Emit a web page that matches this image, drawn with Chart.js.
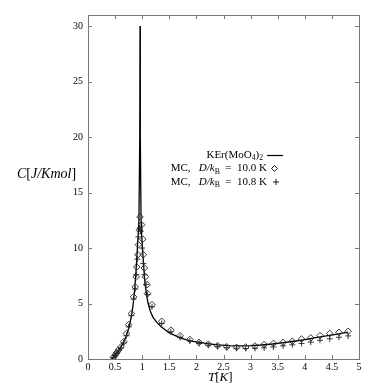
<!DOCTYPE html>
<html>
<head>
<meta charset="utf-8">
<script src="https://cdn.jsdelivr.net/npm/chart.js@4.4.0/dist/chart.umd.min.js"></script>
<style>
  html, body { margin: 0; padding: 0; background: #fff; }
  #c { display: block; }
</style>
</head>
<body>
<canvas id="c" width="372" height="384"></canvas>
<script>
// KEr(MoO4)2 measured specific heat (solid line)
var expT = [0.44, 0.5, 0.55, 0.6, 0.65, 0.7, 0.75, 0.8, 0.83, 0.86, 0.88, 0.9, 0.92, 0.94, 0.955, 0.96, 0.965, 0.98, 0.99, 1.02, 1.05, 1.08, 1.11, 1.15, 1.2, 1.27, 1.35, 1.5, 1.7, 1.9, 2.0, 2.2, 2.4, 2.6, 2.8, 3.0, 3.2, 3.4, 3.6, 3.8, 4.0, 4.2, 4.4, 4.6, 4.8];
var expC = [0.0, 0.35, 0.65, 1.0, 1.45, 2.0, 2.75, 3.8, 4.8, 6.2, 7.5, 9.0, 10.7, 12.5, 20, 30, 20, 12.3, 11.2, 8.9, 6.9, 5.8, 5.0, 4.3, 3.75, 3.3, 2.9, 2.35, 1.9, 1.62, 1.55, 1.38, 1.27, 1.2, 1.18, 1.2, 1.26, 1.35, 1.47, 1.6, 1.75, 1.92, 2.08, 2.25, 2.42];

// MC, D/kB = 10.0 K (diamonds)
var mc100T = [0.47, 0.5, 0.53, 0.56, 0.61, 0.66, 0.71, 0.75, 0.8, 0.84, 0.87, 0.89, 0.9, 0.92, 0.93, 0.95, 0.96, 0.99, 1.01, 1.02, 1.04, 1.06, 1.09, 1.1, 1.18, 1.36, 1.53, 1.70, 1.88, 2.05, 2.22, 2.39, 2.56, 2.74, 2.91, 3.08, 3.25, 3.42, 3.60, 3.77, 3.94, 4.11, 4.28, 4.46, 4.63, 4.80];
var mc100C = [0.15, 0.36, 0.57, 0.8, 1.1, 1.56, 2.3, 3.1, 4.1, 5.6, 6.5, 7.4, 8.3, 9.4, 10.3, 11.6, 12.8, 12.1, 10.8, 9.4, 8.2, 7.4, 6.7, 5.9, 4.9, 3.4, 2.6, 2.1, 1.75, 1.5, 1.33, 1.2, 1.1, 1.05, 1.08, 1.17, 1.3, 1.4, 1.5, 1.6, 1.8, 1.9, 2.1, 2.3, 2.4, 2.5];

// MC, D/kB = 10.8 K (pluses)
var mc108T = [0.47, 0.5, 0.53, 0.56, 0.61, 0.66, 0.71, 0.75, 0.8, 0.84, 0.87, 0.89, 0.91, 0.93, 0.95, 0.97, 1.0, 1.02, 1.04, 1.07, 1.1, 1.18, 1.36, 1.53, 1.70, 1.88, 2.05, 2.22, 2.39, 2.56, 2.74, 2.91, 3.08, 3.25, 3.42, 3.60, 3.77, 3.94, 4.11, 4.28, 4.46, 4.63, 4.80];
var mc108C = [0.12, 0.3, 0.5, 0.72, 1.0, 1.45, 2.1, 2.9, 3.9, 5.4, 6.3, 7.6, 9.0, 11.0, 11.8, 11.5, 10.0, 8.6, 7.6, 6.7, 5.8, 4.7, 3.2, 2.45, 1.95, 1.62, 1.4, 1.24, 1.12, 1.02, 0.97, 0.95, 0.96, 1.0, 1.08, 1.18, 1.28, 1.4, 1.52, 1.68, 1.82, 1.96, 2.08];

var xTicks = [0, 0.5, 1, 1.5, 2, 2.5, 3, 3.5, 4, 4.5, 5];
var xLabels = ['0', '0.5', '1', '1.5', '2', '2.5', '3', '3.5', '4', '4.5', '5'];
var yTicks = [0, 5, 10, 15, 20, 25, 30];
var yLabels = ['0', '5', '10', '15', '20', '25', '30'];

function pts(xs, ys) {
    var out = [];
    for (var i = 0; i < xs.length; i++) out.push({x: xs[i], y: ys[i]});
    return out;
}

var SERIF = '"Liberation Serif", "DejaVu Serif", serif';

// draw a run of text pieces: [text, fontStyle, sizeScale, dy]
function drawRuns(ctx, runs, x, y, size, alignRight) {
    var w = 0;
    runs.forEach(function (r) {
        ctx.font = (r[1] || '') + ' ' + (size * (r[2] || 1)) + 'px ' + SERIF;
        w += ctx.measureText(r[0]).width;
    });
    var cx = alignRight ? x - w : x;
    runs.forEach(function (r) {
        ctx.font = (r[1] || '') + ' ' + (size * (r[2] || 1)) + 'px ' + SERIF;
        ctx.fillText(r[0], cx, y + (r[3] || 0));
        cx += ctx.measureText(r[0]).width;
    });
    return w;
}

var framePlugin = {
    id: 'frame',
    beforeDatasetsDraw: function (chart) {
        var ctx = chart.ctx, a = chart.chartArea;
        var xs = chart.scales.x, ys = chart.scales.y;
        ctx.save();
        ctx.strokeStyle = '#777';
        ctx.lineWidth = 1;
        ctx.strokeRect(a.left + 0.5, a.top + 0.5, a.right - a.left, a.bottom - a.top);
        ctx.beginPath();
        xTicks.forEach(function (v) {
            var px = Math.round(xs.getPixelForValue(v)) + 0.5;
            ctx.moveTo(px, a.bottom); ctx.lineTo(px, a.bottom - 4);
            ctx.moveTo(px, a.top); ctx.lineTo(px, a.top + 4);
        });
        yTicks.forEach(function (v) {
            var py = Math.round(ys.getPixelForValue(v)) + 0.5;
            ctx.moveTo(a.left, py); ctx.lineTo(a.left + 4, py);
            ctx.moveTo(a.right, py); ctx.lineTo(a.right - 4, py);
        });
        ctx.stroke();
        ctx.restore();
    },
    afterDraw: function (chart) {
        var ctx = chart.ctx;
        ctx.save();
        ctx.fillStyle = '#000';
        ctx.textBaseline = 'middle';
        ctx.textAlign = 'left';
        // axis titles
        drawRuns(ctx, [['C', 'italic'], ['['], ['J/Kmol', 'italic'], [']']], 17, 174, 14, false);
        drawRuns(ctx, [['T', 'italic'], ['['], ['K', 'italic'], [']']], 208, 378, 13, false);
        // legend
        drawRuns(ctx, [['KEr(MoO'], ['4', '', 0.7, 3], [')'], ['2', '', 0.7, 3]], 263, 155, 11, true);
        ctx.strokeStyle = '#000';
        ctx.lineWidth = 1.2;
        ctx.beginPath(); ctx.moveTo(267, 155.5); ctx.lineTo(283, 155.5); ctx.stroke();
        var mcRuns = function (val) {
            return [['MC,   '], ['D/k', 'italic'], ['B', '', 0.7, 3], ['  =  ' + val + ' K']];
        };
        drawRuns(ctx, mcRuns('10.0'), 267, 168.5, 11, true);
        drawRuns(ctx, mcRuns('10.8'), 267, 182, 11, true);
        ctx.lineWidth = 0.9;
        ctx.beginPath();
        ctx.moveTo(274.5, 165.5); ctx.lineTo(277.5, 168.5); ctx.lineTo(274.5, 171.5); ctx.lineTo(271.5, 168.5); ctx.closePath();
        ctx.stroke();
        ctx.beginPath();
        ctx.moveTo(273, 182); ctx.lineTo(279, 182);
        ctx.moveTo(276, 179); ctx.lineTo(276, 185);
        ctx.stroke();
        ctx.restore();
    }
};

new Chart(document.getElementById('c'), {
    type: 'scatter',
    data: {
        datasets: [{
            label: 'KEr(MoO4)2',
            type: 'line',
            data: pts(expT, expC),
            borderColor: '#000',
            borderWidth: 1.3,
            pointRadius: 0,
            fill: false,
            tension: 0,
            order: 3
        }, {
            label: 'MC, D/kB = 10.0 K',
            data: pts(mc100T, mc100C),
            pointStyle: 'rectRot',
            pointRadius: 3.3,
            borderColor: '#222',
            backgroundColor: 'rgba(255,255,255,0)',
            borderWidth: 0.9,
            order: 1
        }, {
            label: 'MC, D/kB = 10.8 K',
            data: pts(mc108T, mc108C),
            pointStyle: 'cross',
            pointRadius: 3,
            borderColor: '#222',
            borderWidth: 0.9,
            order: 2
        }]
    },
    options: {
        responsive: false,
        animation: false,
        layout: { padding: { left: 0, right: 13, top: 15, bottom: 0 } },
        plugins: { legend: { display: false }, tooltip: { enabled: false } },
        scales: {
            x: {
                type: 'linear',
                min: 0, max: 5,
                afterBuildTicks: function (s) { s.ticks = xTicks.map(function (v) { return {value: v}; }); },
                afterFit: function (s) { s.height = 25; },
                grid: { display: false, drawTicks: false },
                border: { display: false },
                ticks: {
                    color: '#000', padding: 2, maxRotation: 0, font: { family: SERIF, size: 10 },
                    callback: function (v) { return xLabels[xTicks.indexOf(v)]; }
                }
            },
            y: {
                type: 'linear',
                min: 0, max: 31,
                afterBuildTicks: function (s) { s.ticks = yTicks.map(function (v) { return {value: v}; }); },
                afterFit: function (s) { s.width = 88; },
                grid: { display: false, drawTicks: false },
                border: { display: false },
                ticks: {
                    color: '#000', padding: 5, font: { family: SERIF, size: 10 },
                    callback: function (v) { return yLabels[yTicks.indexOf(v)]; }
                }
            }
        }
    },
    plugins: [framePlugin]
});
</script>
</body>
</html>
